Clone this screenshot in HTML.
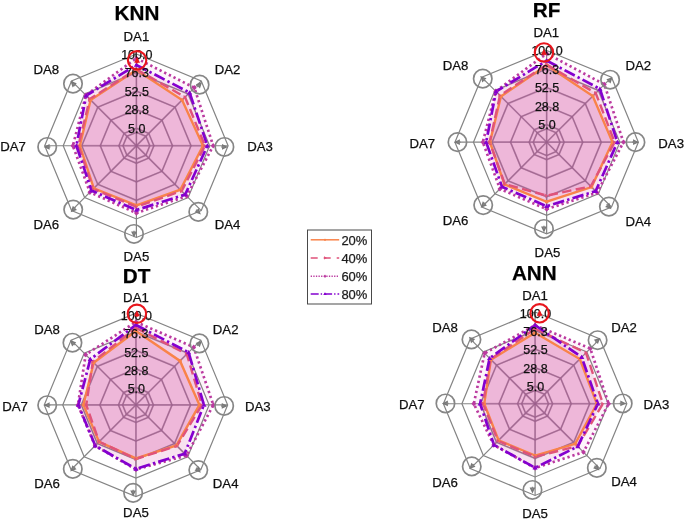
<!DOCTYPE html><html><head><meta charset="utf-8"><title>Radar charts</title>
<style>html,body{margin:0;padding:0;background:#fff}svg{display:block}text{font-family:"Liberation Sans",sans-serif;fill:#111;stroke:#111;stroke-width:0.25px}.t{font-size:20.7px;font-weight:bold;text-anchor:middle;fill:#000}.l{font-size:13.2px}.k{font-size:12.5px;text-anchor:middle}.g{fill:none;stroke:#848484;stroke-width:1.2}</style></head><body>
<svg width="685" height="521" viewBox="0 0 685 521">
<defs><filter id="b" x="-5%" y="-5%" width="110%" height="110%"><feGaussianBlur stdDeviation="0.7"/></filter></defs>
<rect width="685" height="521" fill="#fff"/>
<g filter="url(#b)">
<g>
<polygon class="g" points="136.40,128.25 148.77,133.38 153.90,145.75 148.77,158.12 136.40,163.25 124.03,158.12 118.90,145.75 124.03,133.38"/>
<polygon class="g" points="136.40,109.65 161.93,120.22 172.50,145.75 161.93,171.28 136.40,181.85 110.87,171.28 100.30,145.75 110.87,120.22"/>
<polygon class="g" points="136.40,91.15 175.01,107.14 191.00,145.75 175.01,184.36 136.40,200.35 97.79,184.36 81.80,145.75 97.79,107.14"/>
<polygon class="g" points="136.40,72.55 188.16,93.99 209.60,145.75 188.16,197.51 136.40,218.95 84.64,197.51 63.20,145.75 84.64,93.99"/>
<polygon class="g" points="136.40,54.05 201.24,80.91 228.10,145.75 201.24,210.59 136.40,237.45 71.56,210.59 44.70,145.75 71.56,80.91"/>
<polygon class="g" points="136.40,132.35 145.88,136.27 149.80,145.75 145.88,155.23 136.40,159.15 126.92,155.23 123.00,145.75 126.92,136.27"/>
<line class="g" x1="136.40" y1="145.75" x2="136.40" y2="54.05"/>
<line class="g" x1="136.40" y1="145.75" x2="201.24" y2="80.91"/>
<line class="g" x1="136.40" y1="145.75" x2="228.10" y2="145.75"/>
<line class="g" x1="136.40" y1="145.75" x2="201.24" y2="210.59"/>
<line class="g" x1="136.40" y1="145.75" x2="136.40" y2="237.45"/>
<line class="g" x1="136.40" y1="145.75" x2="71.56" y2="210.59"/>
<line class="g" x1="136.40" y1="145.75" x2="44.70" y2="145.75"/>
<line class="g" x1="136.40" y1="145.75" x2="71.56" y2="80.91"/>
<polygon points="136.40,69.95 182.08,100.07 203.00,145.75 180.38,189.73 136.40,205.35 93.83,188.32 79.90,145.75 90.58,99.93" fill="#d85caa" fill-opacity="0.19"/>
<polygon points="136.40,69.25 185.05,97.10 205.00,145.75 181.65,191.00 136.40,206.75 93.27,188.88 78.40,145.75 89.73,99.08" fill="#d85caa" fill-opacity="0.16"/>
<polygon points="136.40,58.25 194.38,87.77 213.20,145.75 186.75,196.10 136.40,213.05 89.87,192.28 72.90,145.75 85.84,95.19" fill="#d85caa" fill-opacity="0.06"/>
<polygon points="136.40,64.95 189.57,92.58 207.40,145.75 185.19,194.54 136.40,210.05 91.57,190.58 76.40,145.75 86.20,95.55" fill="#d85caa" fill-opacity="0.12"/>
<clipPath id="clKNN"><polygon points="136.40,64.95 189.57,92.58 207.40,145.75 185.19,194.54 136.40,210.05 91.57,190.58 76.40,145.75 86.20,95.55"/></clipPath>
<g clip-path="url(#clKNN)" fill="none" stroke="#9a5c8c" stroke-opacity="0.42" stroke-width="1.9">
<polygon points="136.40,128.25 148.77,133.38 153.90,145.75 148.77,158.12 136.40,163.25 124.03,158.12 118.90,145.75 124.03,133.38"/>
<polygon points="136.40,109.65 161.93,120.22 172.50,145.75 161.93,171.28 136.40,181.85 110.87,171.28 100.30,145.75 110.87,120.22"/>
<polygon points="136.40,91.15 175.01,107.14 191.00,145.75 175.01,184.36 136.40,200.35 97.79,184.36 81.80,145.75 97.79,107.14"/>
<polygon points="136.40,72.55 188.16,93.99 209.60,145.75 188.16,197.51 136.40,218.95 84.64,197.51 63.20,145.75 84.64,93.99"/>
<polygon points="136.40,132.35 145.88,136.27 149.80,145.75 145.88,155.23 136.40,159.15 126.92,155.23 123.00,145.75 126.92,136.27"/>
<line x1="136.40" y1="145.75" x2="136.40" y2="54.05"/>
<line x1="136.40" y1="145.75" x2="201.24" y2="80.91"/>
<line x1="136.40" y1="145.75" x2="228.10" y2="145.75"/>
<line x1="136.40" y1="145.75" x2="201.24" y2="210.59"/>
<line x1="136.40" y1="145.75" x2="136.40" y2="237.45"/>
<line x1="136.40" y1="145.75" x2="71.56" y2="210.59"/>
<line x1="136.40" y1="145.75" x2="44.70" y2="145.75"/>
<line x1="136.40" y1="145.75" x2="71.56" y2="80.91"/>
</g>
<polygon points="136.40,69.95 182.08,100.07 203.00,145.75 180.38,189.73 136.40,205.35 93.83,188.32 79.90,145.75 90.58,99.93" fill="none" stroke="#f9834a" stroke-width="2.4" stroke-linejoin="miter"/>
<polygon points="136.40,69.25 185.05,97.10 205.00,145.75 181.65,191.00 136.40,206.75 93.27,188.88 78.40,145.75 89.73,99.08" fill="none" stroke="#e0527a" stroke-width="2.4" stroke-linejoin="miter" stroke-dasharray="9.4 4.4"/>
<polygon points="136.40,58.25 194.38,87.77 213.20,145.75 186.75,196.10 136.40,213.05 89.87,192.28 72.90,145.75 85.84,95.19" fill="none" stroke="#bb3aa0" stroke-width="2.7" stroke-linejoin="miter" stroke-dasharray="2.3 2.9"/>
<polygon points="136.40,64.95 189.57,92.58 207.40,145.75 185.19,194.54 136.40,210.05 91.57,190.58 76.40,145.75 86.20,95.55" fill="none" stroke="#8400cf" stroke-width="2.7" stroke-linejoin="miter" stroke-dasharray="11.5 3.2 2.4 3.2"/>
<circle cx="136.40" cy="69.95" r="1.8" fill="#f9834a"/>
<circle cx="182.08" cy="100.07" r="1.8" fill="#f9834a"/>
<circle cx="203.00" cy="145.75" r="1.8" fill="#f9834a"/>
<circle cx="180.38" cy="189.73" r="1.8" fill="#f9834a"/>
<circle cx="136.40" cy="205.35" r="1.8" fill="#f9834a"/>
<circle cx="93.83" cy="188.32" r="1.8" fill="#f9834a"/>
<circle cx="79.90" cy="145.75" r="1.8" fill="#f9834a"/>
<circle cx="90.58" cy="99.93" r="1.8" fill="#f9834a"/>
<path d="M137.90 69.25 l-3 -2 v4z" fill="#e0527a"/>
<path d="M186.55 97.10 l-3 -2 v4z" fill="#e0527a"/>
<path d="M206.50 145.75 l-3 -2 v4z" fill="#e0527a"/>
<path d="M183.15 191.00 l-3 -2 v4z" fill="#e0527a"/>
<path d="M137.90 206.75 l-3 -2 v4z" fill="#e0527a"/>
<path d="M94.77 188.88 l-3 -2 v4z" fill="#e0527a"/>
<path d="M79.90 145.75 l-3 -2 v4z" fill="#e0527a"/>
<path d="M91.23 99.08 l-3 -2 v4z" fill="#e0527a"/>
<path d="M136.40 55.55 l2.4 2.7 l-2.4 2.7 l-2.4 -2.7z" fill="#bb3aa0"/>
<path d="M194.38 85.07 l2.4 2.7 l-2.4 2.7 l-2.4 -2.7z" fill="#bb3aa0"/>
<path d="M213.20 143.05 l2.4 2.7 l-2.4 2.7 l-2.4 -2.7z" fill="#bb3aa0"/>
<path d="M186.75 193.40 l2.4 2.7 l-2.4 2.7 l-2.4 -2.7z" fill="#bb3aa0"/>
<path d="M136.40 210.35 l2.4 2.7 l-2.4 2.7 l-2.4 -2.7z" fill="#bb3aa0"/>
<path d="M89.87 189.58 l2.4 2.7 l-2.4 2.7 l-2.4 -2.7z" fill="#bb3aa0"/>
<path d="M72.90 143.05 l2.4 2.7 l-2.4 2.7 l-2.4 -2.7z" fill="#bb3aa0"/>
<path d="M85.84 92.49 l2.4 2.7 l-2.4 2.7 l-2.4 -2.7z" fill="#bb3aa0"/>
<path d="M136.40 62.55 l2.6 4.2 h-5.2z" fill="#8400cf"/>
<path d="M189.57 90.18 l2.6 4.2 h-5.2z" fill="#8400cf"/>
<path d="M207.40 143.35 l2.6 4.2 h-5.2z" fill="#8400cf"/>
<path d="M185.19 192.14 l2.6 4.2 h-5.2z" fill="#8400cf"/>
<path d="M136.40 207.65 l2.6 4.2 h-5.2z" fill="#8400cf"/>
<path d="M91.57 188.18 l2.6 4.2 h-5.2z" fill="#8400cf"/>
<path d="M76.40 143.35 l2.6 4.2 h-5.2z" fill="#8400cf"/>
<path d="M86.20 93.15 l2.6 4.2 h-5.2z" fill="#8400cf"/>
<text class="k" x="136.80" y="59.15">100.0</text>
<text class="k" x="136.80" y="77.15">76.3</text>
<text class="k" x="136.80" y="96.25">52.5</text>
<text class="k" x="136.80" y="114.35">28.8</text>
<text class="k" x="136.80" y="133.25">5.0</text>
<text class="l" text-anchor="middle" x="136.40" y="40.85">DA1</text>
<text class="l" text-anchor="start" x="214.80" y="73.85">DA2</text>
<text class="l" text-anchor="start" x="247.20" y="151.45">DA3</text>
<text class="l" text-anchor="start" x="214.80" y="229.15">DA4</text>
<text class="l" text-anchor="middle" x="136.40" y="260.55">DA5</text>
<text class="l" text-anchor="end" x="59.10" y="229.05">DA6</text>
<text class="l" text-anchor="end" x="25.90" y="151.35">DA7</text>
<text class="l" text-anchor="end" x="59.10" y="73.75">DA8</text>
<circle cx="137.10" cy="60.35" r="9.2" fill="none" stroke="#e8141c" stroke-width="2.1"/>
<path d="M137.10 56.75 L140.00 62.75 L134.20 62.75 Z" fill="#e8141c"/>
<line x1="137.10" y1="60.35" x2="137.10" y2="63.55" stroke="#e8141c" stroke-width="1.4"/>
<circle cx="199.60" cy="84.65" r="9.2" fill="none" stroke="#868686" stroke-width="1.7"/>
<path d="M202.15 82.10 L199.95 88.40 L195.85 84.30 Z" fill="#787878"/>
<line x1="199.60" y1="84.65" x2="197.34" y2="86.91" stroke="#868686" stroke-width="1.4"/>
<circle cx="224.40" cy="146.95" r="9.2" fill="none" stroke="#868686" stroke-width="1.7"/>
<path d="M228.00 146.95 L222.00 149.85 L222.00 144.05 Z" fill="#787878"/>
<line x1="224.40" y1="146.95" x2="221.20" y2="146.95" stroke="#868686" stroke-width="1.4"/>
<circle cx="198.30" cy="211.90" r="9.2" fill="none" stroke="#868686" stroke-width="1.7"/>
<path d="M200.85 214.45 L194.55 212.25 L198.65 208.15 Z" fill="#787878"/>
<line x1="198.30" y1="211.90" x2="196.04" y2="209.64" stroke="#868686" stroke-width="1.4"/>
<circle cx="134.00" cy="233.95" r="9.2" fill="none" stroke="#868686" stroke-width="1.7"/>
<path d="M134.00 237.55 L131.10 231.55 L136.90 231.55 Z" fill="#787878"/>
<line x1="134.00" y1="233.95" x2="134.00" y2="230.75" stroke="#868686" stroke-width="1.4"/>
<circle cx="73.20" cy="209.60" r="9.2" fill="none" stroke="#868686" stroke-width="1.7"/>
<path d="M70.65 212.15 L72.85 205.85 L76.95 209.95 Z" fill="#787878"/>
<line x1="73.20" y1="209.60" x2="75.46" y2="207.34" stroke="#868686" stroke-width="1.4"/>
<circle cx="47.20" cy="146.95" r="9.2" fill="none" stroke="#868686" stroke-width="1.7"/>
<path d="M43.60 146.95 L49.60 144.05 L49.60 149.85 Z" fill="#787878"/>
<line x1="47.20" y1="146.95" x2="50.40" y2="146.95" stroke="#868686" stroke-width="1.4"/>
<circle cx="73.00" cy="83.65" r="9.2" fill="none" stroke="#868686" stroke-width="1.7"/>
<path d="M70.45 81.10 L76.75 83.30 L72.65 87.40 Z" fill="#787878"/>
<line x1="73.00" y1="83.65" x2="75.26" y2="85.91" stroke="#868686" stroke-width="1.4"/>
<text class="t" x="137.00" y="20.25">KNN</text>
</g>
<g>
<polygon class="g" points="546.65,124.65 559.02,129.78 564.15,142.15 559.02,154.52 546.65,159.65 534.28,154.52 529.15,142.15 534.28,129.78"/>
<polygon class="g" points="546.65,106.05 572.18,116.62 582.75,142.15 572.18,167.68 546.65,178.25 521.12,167.68 510.55,142.15 521.12,116.62"/>
<polygon class="g" points="546.65,87.55 585.26,103.54 601.25,142.15 585.26,180.76 546.65,196.75 508.04,180.76 492.05,142.15 508.04,103.54"/>
<polygon class="g" points="546.65,68.95 598.41,90.39 619.85,142.15 598.41,193.91 546.65,215.35 494.89,193.91 473.45,142.15 494.89,90.39"/>
<polygon class="g" points="546.65,50.45 611.49,77.31 638.35,142.15 611.49,206.99 546.65,233.85 481.81,206.99 454.95,142.15 481.81,77.31"/>
<polygon class="g" points="546.65,128.75 556.13,132.67 560.05,142.15 556.13,151.63 546.65,155.55 537.17,151.63 533.25,142.15 537.17,132.67"/>
<line class="g" x1="546.65" y1="142.15" x2="546.65" y2="50.45"/>
<line class="g" x1="546.65" y1="142.15" x2="611.49" y2="77.31"/>
<line class="g" x1="546.65" y1="142.15" x2="638.35" y2="142.15"/>
<line class="g" x1="546.65" y1="142.15" x2="611.49" y2="206.99"/>
<line class="g" x1="546.65" y1="142.15" x2="546.65" y2="233.85"/>
<line class="g" x1="546.65" y1="142.15" x2="481.81" y2="206.99"/>
<line class="g" x1="546.65" y1="142.15" x2="454.95" y2="142.15"/>
<line class="g" x1="546.65" y1="142.15" x2="481.81" y2="77.31"/>
<polygon points="546.65,65.15 592.75,96.05 612.45,142.15 591.55,187.05 546.65,201.75 504.44,184.36 489.95,142.15 500.90,96.40" fill="#d85caa" fill-opacity="0.19"/>
<polygon points="546.65,64.65 595.72,93.08 614.65,142.15 590.84,186.34 546.65,195.65 504.79,184.01 489.65,142.15 499.98,95.48" fill="#d85caa" fill-opacity="0.16"/>
<polygon points="546.65,53.55 604.35,84.45 623.45,142.15 597.14,192.64 546.65,209.15 499.91,188.89 482.85,142.15 495.74,91.24" fill="#d85caa" fill-opacity="0.06"/>
<polygon points="546.65,60.65 599.90,88.90 617.45,142.15 595.65,191.15 546.65,206.25 502.03,186.77 486.15,142.15 496.02,91.52" fill="#d85caa" fill-opacity="0.12"/>
<clipPath id="clRF"><polygon points="546.65,60.65 599.90,88.90 617.45,142.15 595.65,191.15 546.65,206.25 502.03,186.77 486.15,142.15 496.02,91.52"/></clipPath>
<g clip-path="url(#clRF)" fill="none" stroke="#9a5c8c" stroke-opacity="0.42" stroke-width="1.9">
<polygon points="546.65,124.65 559.02,129.78 564.15,142.15 559.02,154.52 546.65,159.65 534.28,154.52 529.15,142.15 534.28,129.78"/>
<polygon points="546.65,106.05 572.18,116.62 582.75,142.15 572.18,167.68 546.65,178.25 521.12,167.68 510.55,142.15 521.12,116.62"/>
<polygon points="546.65,87.55 585.26,103.54 601.25,142.15 585.26,180.76 546.65,196.75 508.04,180.76 492.05,142.15 508.04,103.54"/>
<polygon points="546.65,68.95 598.41,90.39 619.85,142.15 598.41,193.91 546.65,215.35 494.89,193.91 473.45,142.15 494.89,90.39"/>
<polygon points="546.65,128.75 556.13,132.67 560.05,142.15 556.13,151.63 546.65,155.55 537.17,151.63 533.25,142.15 537.17,132.67"/>
<line x1="546.65" y1="142.15" x2="546.65" y2="50.45"/>
<line x1="546.65" y1="142.15" x2="611.49" y2="77.31"/>
<line x1="546.65" y1="142.15" x2="638.35" y2="142.15"/>
<line x1="546.65" y1="142.15" x2="611.49" y2="206.99"/>
<line x1="546.65" y1="142.15" x2="546.65" y2="233.85"/>
<line x1="546.65" y1="142.15" x2="481.81" y2="206.99"/>
<line x1="546.65" y1="142.15" x2="454.95" y2="142.15"/>
<line x1="546.65" y1="142.15" x2="481.81" y2="77.31"/>
</g>
<polygon points="546.65,65.15 592.75,96.05 612.45,142.15 591.55,187.05 546.65,201.75 504.44,184.36 489.95,142.15 500.90,96.40" fill="none" stroke="#f9834a" stroke-width="2.4" stroke-linejoin="miter"/>
<polygon points="546.65,64.65 595.72,93.08 614.65,142.15 590.84,186.34 546.65,195.65 504.79,184.01 489.65,142.15 499.98,95.48" fill="none" stroke="#e0527a" stroke-width="2.4" stroke-linejoin="miter" stroke-dasharray="9.4 4.4"/>
<polygon points="546.65,53.55 604.35,84.45 623.45,142.15 597.14,192.64 546.65,209.15 499.91,188.89 482.85,142.15 495.74,91.24" fill="none" stroke="#bb3aa0" stroke-width="2.7" stroke-linejoin="miter" stroke-dasharray="2.3 2.9"/>
<polygon points="546.65,60.65 599.90,88.90 617.45,142.15 595.65,191.15 546.65,206.25 502.03,186.77 486.15,142.15 496.02,91.52" fill="none" stroke="#8400cf" stroke-width="2.7" stroke-linejoin="miter" stroke-dasharray="11.5 3.2 2.4 3.2"/>
<circle cx="546.65" cy="65.15" r="1.8" fill="#f9834a"/>
<circle cx="592.75" cy="96.05" r="1.8" fill="#f9834a"/>
<circle cx="612.45" cy="142.15" r="1.8" fill="#f9834a"/>
<circle cx="591.55" cy="187.05" r="1.8" fill="#f9834a"/>
<circle cx="546.65" cy="201.75" r="1.8" fill="#f9834a"/>
<circle cx="504.44" cy="184.36" r="1.8" fill="#f9834a"/>
<circle cx="489.95" cy="142.15" r="1.8" fill="#f9834a"/>
<circle cx="500.90" cy="96.40" r="1.8" fill="#f9834a"/>
<path d="M548.15 64.65 l-3 -2 v4z" fill="#e0527a"/>
<path d="M597.22 93.08 l-3 -2 v4z" fill="#e0527a"/>
<path d="M616.15 142.15 l-3 -2 v4z" fill="#e0527a"/>
<path d="M592.34 186.34 l-3 -2 v4z" fill="#e0527a"/>
<path d="M548.15 195.65 l-3 -2 v4z" fill="#e0527a"/>
<path d="M506.29 184.01 l-3 -2 v4z" fill="#e0527a"/>
<path d="M491.15 142.15 l-3 -2 v4z" fill="#e0527a"/>
<path d="M501.48 95.48 l-3 -2 v4z" fill="#e0527a"/>
<path d="M546.65 50.85 l2.4 2.7 l-2.4 2.7 l-2.4 -2.7z" fill="#bb3aa0"/>
<path d="M604.35 81.75 l2.4 2.7 l-2.4 2.7 l-2.4 -2.7z" fill="#bb3aa0"/>
<path d="M623.45 139.45 l2.4 2.7 l-2.4 2.7 l-2.4 -2.7z" fill="#bb3aa0"/>
<path d="M597.14 189.94 l2.4 2.7 l-2.4 2.7 l-2.4 -2.7z" fill="#bb3aa0"/>
<path d="M546.65 206.45 l2.4 2.7 l-2.4 2.7 l-2.4 -2.7z" fill="#bb3aa0"/>
<path d="M499.91 186.19 l2.4 2.7 l-2.4 2.7 l-2.4 -2.7z" fill="#bb3aa0"/>
<path d="M482.85 139.45 l2.4 2.7 l-2.4 2.7 l-2.4 -2.7z" fill="#bb3aa0"/>
<path d="M495.74 88.54 l2.4 2.7 l-2.4 2.7 l-2.4 -2.7z" fill="#bb3aa0"/>
<path d="M546.65 58.25 l2.6 4.2 h-5.2z" fill="#8400cf"/>
<path d="M599.90 86.50 l2.6 4.2 h-5.2z" fill="#8400cf"/>
<path d="M617.45 139.75 l2.6 4.2 h-5.2z" fill="#8400cf"/>
<path d="M595.65 188.75 l2.6 4.2 h-5.2z" fill="#8400cf"/>
<path d="M546.65 203.85 l2.6 4.2 h-5.2z" fill="#8400cf"/>
<path d="M502.03 184.37 l2.6 4.2 h-5.2z" fill="#8400cf"/>
<path d="M486.15 139.75 l2.6 4.2 h-5.2z" fill="#8400cf"/>
<path d="M496.02 89.12 l2.6 4.2 h-5.2z" fill="#8400cf"/>
<text class="k" x="547.05" y="55.05">100.0</text>
<text class="k" x="547.05" y="73.55">76.3</text>
<text class="k" x="547.05" y="92.15">52.5</text>
<text class="k" x="547.05" y="110.65">28.8</text>
<text class="k" x="547.05" y="129.25">5.0</text>
<text class="l" text-anchor="middle" x="546.35" y="37.25">DA1</text>
<text class="l" text-anchor="start" x="625.55" y="69.75">DA2</text>
<text class="l" text-anchor="start" x="658.35" y="147.85">DA3</text>
<text class="l" text-anchor="start" x="625.55" y="225.55">DA4</text>
<text class="l" text-anchor="middle" x="547.45" y="256.95">DA5</text>
<text class="l" text-anchor="end" x="468.35" y="225.45">DA6</text>
<text class="l" text-anchor="end" x="435.15" y="147.75">DA7</text>
<text class="l" text-anchor="end" x="468.35" y="70.15">DA8</text>
<circle cx="543.95" cy="52.40" r="9.2" fill="none" stroke="#e8141c" stroke-width="2.1"/>
<path d="M543.95 48.80 L546.85 54.80 L541.05 54.80 Z" fill="#e8141c"/>
<line x1="543.95" y1="52.40" x2="543.95" y2="55.60" stroke="#e8141c" stroke-width="1.4"/>
<circle cx="610.10" cy="79.70" r="9.2" fill="none" stroke="#868686" stroke-width="1.7"/>
<path d="M612.65 77.15 L610.45 83.45 L606.35 79.35 Z" fill="#787878"/>
<line x1="610.10" y1="79.70" x2="607.84" y2="81.96" stroke="#868686" stroke-width="1.4"/>
<circle cx="635.45" cy="142.15" r="9.2" fill="none" stroke="#868686" stroke-width="1.7"/>
<path d="M639.05 142.15 L633.05 145.05 L633.05 139.25 Z" fill="#787878"/>
<line x1="635.45" y1="142.15" x2="632.25" y2="142.15" stroke="#868686" stroke-width="1.4"/>
<circle cx="608.90" cy="206.60" r="9.2" fill="none" stroke="#868686" stroke-width="1.7"/>
<path d="M611.45 209.15 L605.15 206.95 L609.25 202.85 Z" fill="#787878"/>
<line x1="608.90" y1="206.60" x2="606.64" y2="204.34" stroke="#868686" stroke-width="1.4"/>
<circle cx="543.95" cy="228.95" r="9.2" fill="none" stroke="#868686" stroke-width="1.7"/>
<path d="M543.95 232.55 L541.05 226.55 L546.85 226.55 Z" fill="#787878"/>
<line x1="543.95" y1="228.95" x2="543.95" y2="225.75" stroke="#868686" stroke-width="1.4"/>
<circle cx="483.20" cy="205.10" r="9.2" fill="none" stroke="#868686" stroke-width="1.7"/>
<path d="M480.65 207.65 L482.85 201.35 L486.95 205.45 Z" fill="#787878"/>
<line x1="483.20" y1="205.10" x2="485.46" y2="202.84" stroke="#868686" stroke-width="1.4"/>
<circle cx="457.45" cy="142.15" r="9.2" fill="none" stroke="#868686" stroke-width="1.7"/>
<path d="M453.85 142.15 L459.85 139.25 L459.85 145.05 Z" fill="#787878"/>
<line x1="457.45" y1="142.15" x2="460.65" y2="142.15" stroke="#868686" stroke-width="1.4"/>
<circle cx="482.75" cy="78.65" r="9.2" fill="none" stroke="#868686" stroke-width="1.7"/>
<path d="M480.20 76.10 L486.50 78.30 L482.40 82.40 Z" fill="#787878"/>
<line x1="482.75" y1="78.65" x2="485.01" y2="80.91" stroke="#868686" stroke-width="1.4"/>
<text class="t" x="546.65" y="16.85">RF</text>
</g>
<g>
<polygon class="g" points="135.95,387.45 148.32,392.58 153.45,404.95 148.32,417.32 135.95,422.45 123.58,417.32 118.45,404.95 123.58,392.58"/>
<polygon class="g" points="135.95,368.85 161.48,379.42 172.05,404.95 161.48,430.48 135.95,441.05 110.42,430.48 99.85,404.95 110.42,379.42"/>
<polygon class="g" points="135.95,350.35 174.56,366.34 190.55,404.95 174.56,443.56 135.95,459.55 97.34,443.56 81.35,404.95 97.34,366.34"/>
<polygon class="g" points="135.95,331.75 187.71,353.19 209.15,404.95 187.71,456.71 135.95,478.15 84.19,456.71 62.75,404.95 84.19,353.19"/>
<polygon class="g" points="135.95,313.25 200.79,340.11 227.65,404.95 200.79,469.79 135.95,496.65 71.11,469.79 44.25,404.95 71.11,340.11"/>
<polygon class="g" points="135.95,391.55 145.43,395.47 149.35,404.95 145.43,414.43 135.95,418.35 126.47,414.43 122.55,404.95 126.47,395.47"/>
<line class="g" x1="135.95" y1="404.95" x2="135.95" y2="313.25"/>
<line class="g" x1="135.95" y1="404.95" x2="200.79" y2="340.11"/>
<line class="g" x1="135.95" y1="404.95" x2="227.65" y2="404.95"/>
<line class="g" x1="135.95" y1="404.95" x2="200.79" y2="469.79"/>
<line class="g" x1="135.95" y1="404.95" x2="135.95" y2="496.65"/>
<line class="g" x1="135.95" y1="404.95" x2="71.11" y2="469.79"/>
<line class="g" x1="135.95" y1="404.95" x2="44.25" y2="404.95"/>
<line class="g" x1="135.95" y1="404.95" x2="71.11" y2="340.11"/>
<polygon points="135.95,330.95 180.00,360.90 199.45,404.95 176.40,445.40 135.95,458.45 99.04,441.86 83.45,404.95 93.67,362.67" fill="#d85caa" fill-opacity="0.19"/>
<polygon points="135.95,327.95 186.79,354.11 201.95,404.95 176.96,445.96 135.95,458.95 99.18,441.72 86.25,404.95 92.82,361.82" fill="#d85caa" fill-opacity="0.16"/>
<polygon points="135.95,321.95 193.72,347.18 213.35,404.95 186.51,455.51 135.95,469.45 95.08,445.82 77.95,404.95 85.67,354.67" fill="#d85caa" fill-opacity="0.06"/>
<polygon points="135.95,324.95 188.56,352.34 203.95,404.95 184.67,453.67 135.95,468.85 95.22,445.68 78.35,404.95 90.27,359.27" fill="#d85caa" fill-opacity="0.12"/>
<clipPath id="clDT"><polygon points="135.95,324.95 188.56,352.34 203.95,404.95 184.67,453.67 135.95,468.85 95.22,445.68 78.35,404.95 90.27,359.27"/></clipPath>
<g clip-path="url(#clDT)" fill="none" stroke="#9a5c8c" stroke-opacity="0.42" stroke-width="1.9">
<polygon points="135.95,387.45 148.32,392.58 153.45,404.95 148.32,417.32 135.95,422.45 123.58,417.32 118.45,404.95 123.58,392.58"/>
<polygon points="135.95,368.85 161.48,379.42 172.05,404.95 161.48,430.48 135.95,441.05 110.42,430.48 99.85,404.95 110.42,379.42"/>
<polygon points="135.95,350.35 174.56,366.34 190.55,404.95 174.56,443.56 135.95,459.55 97.34,443.56 81.35,404.95 97.34,366.34"/>
<polygon points="135.95,331.75 187.71,353.19 209.15,404.95 187.71,456.71 135.95,478.15 84.19,456.71 62.75,404.95 84.19,353.19"/>
<polygon points="135.95,391.55 145.43,395.47 149.35,404.95 145.43,414.43 135.95,418.35 126.47,414.43 122.55,404.95 126.47,395.47"/>
<line x1="135.95" y1="404.95" x2="135.95" y2="313.25"/>
<line x1="135.95" y1="404.95" x2="200.79" y2="340.11"/>
<line x1="135.95" y1="404.95" x2="227.65" y2="404.95"/>
<line x1="135.95" y1="404.95" x2="200.79" y2="469.79"/>
<line x1="135.95" y1="404.95" x2="135.95" y2="496.65"/>
<line x1="135.95" y1="404.95" x2="71.11" y2="469.79"/>
<line x1="135.95" y1="404.95" x2="44.25" y2="404.95"/>
<line x1="135.95" y1="404.95" x2="71.11" y2="340.11"/>
</g>
<polygon points="135.95,330.95 180.00,360.90 199.45,404.95 176.40,445.40 135.95,458.45 99.04,441.86 83.45,404.95 93.67,362.67" fill="none" stroke="#f9834a" stroke-width="2.4" stroke-linejoin="miter"/>
<polygon points="135.95,327.95 186.79,354.11 201.95,404.95 176.96,445.96 135.95,458.95 99.18,441.72 86.25,404.95 92.82,361.82" fill="none" stroke="#e0527a" stroke-width="2.4" stroke-linejoin="miter" stroke-dasharray="9.4 4.4"/>
<polygon points="135.95,321.95 193.72,347.18 213.35,404.95 186.51,455.51 135.95,469.45 95.08,445.82 77.95,404.95 85.67,354.67" fill="none" stroke="#bb3aa0" stroke-width="2.7" stroke-linejoin="miter" stroke-dasharray="2.3 2.9"/>
<polygon points="135.95,324.95 188.56,352.34 203.95,404.95 184.67,453.67 135.95,468.85 95.22,445.68 78.35,404.95 90.27,359.27" fill="none" stroke="#8400cf" stroke-width="2.7" stroke-linejoin="miter" stroke-dasharray="11.5 3.2 2.4 3.2"/>
<circle cx="135.95" cy="330.95" r="1.8" fill="#f9834a"/>
<circle cx="180.00" cy="360.90" r="1.8" fill="#f9834a"/>
<circle cx="199.45" cy="404.95" r="1.8" fill="#f9834a"/>
<circle cx="176.40" cy="445.40" r="1.8" fill="#f9834a"/>
<circle cx="135.95" cy="458.45" r="1.8" fill="#f9834a"/>
<circle cx="99.04" cy="441.86" r="1.8" fill="#f9834a"/>
<circle cx="83.45" cy="404.95" r="1.8" fill="#f9834a"/>
<circle cx="93.67" cy="362.67" r="1.8" fill="#f9834a"/>
<path d="M137.45 327.95 l-3 -2 v4z" fill="#e0527a"/>
<path d="M188.29 354.11 l-3 -2 v4z" fill="#e0527a"/>
<path d="M203.45 404.95 l-3 -2 v4z" fill="#e0527a"/>
<path d="M178.46 445.96 l-3 -2 v4z" fill="#e0527a"/>
<path d="M137.45 458.95 l-3 -2 v4z" fill="#e0527a"/>
<path d="M100.68 441.72 l-3 -2 v4z" fill="#e0527a"/>
<path d="M87.75 404.95 l-3 -2 v4z" fill="#e0527a"/>
<path d="M94.32 361.82 l-3 -2 v4z" fill="#e0527a"/>
<path d="M135.95 319.25 l2.4 2.7 l-2.4 2.7 l-2.4 -2.7z" fill="#bb3aa0"/>
<path d="M193.72 344.48 l2.4 2.7 l-2.4 2.7 l-2.4 -2.7z" fill="#bb3aa0"/>
<path d="M213.35 402.25 l2.4 2.7 l-2.4 2.7 l-2.4 -2.7z" fill="#bb3aa0"/>
<path d="M186.51 452.81 l2.4 2.7 l-2.4 2.7 l-2.4 -2.7z" fill="#bb3aa0"/>
<path d="M135.95 466.75 l2.4 2.7 l-2.4 2.7 l-2.4 -2.7z" fill="#bb3aa0"/>
<path d="M95.08 443.12 l2.4 2.7 l-2.4 2.7 l-2.4 -2.7z" fill="#bb3aa0"/>
<path d="M77.95 402.25 l2.4 2.7 l-2.4 2.7 l-2.4 -2.7z" fill="#bb3aa0"/>
<path d="M85.67 351.97 l2.4 2.7 l-2.4 2.7 l-2.4 -2.7z" fill="#bb3aa0"/>
<path d="M135.95 322.55 l2.6 4.2 h-5.2z" fill="#8400cf"/>
<path d="M188.56 349.94 l2.6 4.2 h-5.2z" fill="#8400cf"/>
<path d="M203.95 402.55 l2.6 4.2 h-5.2z" fill="#8400cf"/>
<path d="M184.67 451.27 l2.6 4.2 h-5.2z" fill="#8400cf"/>
<path d="M135.95 466.45 l2.6 4.2 h-5.2z" fill="#8400cf"/>
<path d="M95.22 443.28 l2.6 4.2 h-5.2z" fill="#8400cf"/>
<path d="M78.35 402.55 l2.6 4.2 h-5.2z" fill="#8400cf"/>
<path d="M90.27 356.87 l2.6 4.2 h-5.2z" fill="#8400cf"/>
<text class="k" x="136.35" y="320.35">100.0</text>
<text class="k" x="136.35" y="337.65">76.3</text>
<text class="k" x="136.35" y="356.65">52.5</text>
<text class="k" x="136.35" y="374.75">28.8</text>
<text class="k" x="136.35" y="393.20">5.0</text>
<text class="l" text-anchor="middle" x="135.95" y="301.75">DA1</text>
<text class="l" text-anchor="start" x="212.85" y="334.05">DA2</text>
<text class="l" text-anchor="start" x="244.95" y="410.65">DA3</text>
<text class="l" text-anchor="start" x="212.85" y="488.35">DA4</text>
<text class="l" text-anchor="middle" x="135.95" y="517.25">DA5</text>
<text class="l" text-anchor="end" x="59.95" y="488.25">DA6</text>
<text class="l" text-anchor="end" x="27.95" y="410.55">DA7</text>
<text class="l" text-anchor="end" x="59.95" y="333.95">DA8</text>
<circle cx="136.90" cy="313.80" r="9.2" fill="none" stroke="#e8141c" stroke-width="2.1"/>
<path d="M136.90 310.20 L139.80 316.20 L134.00 316.20 Z" fill="#e8141c"/>
<line x1="136.90" y1="313.80" x2="136.90" y2="317.00" stroke="#e8141c" stroke-width="1.4"/>
<circle cx="199.40" cy="343.40" r="9.2" fill="none" stroke="#868686" stroke-width="1.7"/>
<path d="M201.95 340.85 L199.75 347.15 L195.65 343.05 Z" fill="#787878"/>
<line x1="199.40" y1="343.40" x2="197.14" y2="345.66" stroke="#868686" stroke-width="1.4"/>
<circle cx="224.15" cy="405.95" r="9.2" fill="none" stroke="#868686" stroke-width="1.7"/>
<path d="M227.75 405.95 L221.75 408.85 L221.75 403.05 Z" fill="#787878"/>
<line x1="224.15" y1="405.95" x2="220.95" y2="405.95" stroke="#868686" stroke-width="1.4"/>
<circle cx="198.30" cy="470.10" r="9.2" fill="none" stroke="#868686" stroke-width="1.7"/>
<path d="M200.85 472.65 L194.55 470.45 L198.65 466.35 Z" fill="#787878"/>
<line x1="198.30" y1="470.10" x2="196.04" y2="467.84" stroke="#868686" stroke-width="1.4"/>
<circle cx="133.15" cy="492.90" r="9.2" fill="none" stroke="#868686" stroke-width="1.7"/>
<path d="M133.15 496.50 L130.25 490.50 L136.05 490.50 Z" fill="#787878"/>
<line x1="133.15" y1="492.90" x2="133.15" y2="489.70" stroke="#868686" stroke-width="1.4"/>
<circle cx="72.80" cy="468.90" r="9.2" fill="none" stroke="#868686" stroke-width="1.7"/>
<path d="M70.25 471.45 L72.45 465.15 L76.55 469.25 Z" fill="#787878"/>
<line x1="72.80" y1="468.90" x2="75.06" y2="466.64" stroke="#868686" stroke-width="1.4"/>
<circle cx="47.20" cy="405.20" r="9.2" fill="none" stroke="#868686" stroke-width="1.7"/>
<path d="M43.60 405.20 L49.60 402.30 L49.60 408.10 Z" fill="#787878"/>
<line x1="47.20" y1="405.20" x2="50.40" y2="405.20" stroke="#868686" stroke-width="1.4"/>
<circle cx="72.45" cy="342.70" r="9.2" fill="none" stroke="#868686" stroke-width="1.7"/>
<path d="M69.90 340.15 L76.20 342.35 L72.10 346.45 Z" fill="#787878"/>
<line x1="72.45" y1="342.70" x2="74.71" y2="344.96" stroke="#868686" stroke-width="1.4"/>
<text class="t" x="136.55" y="282.95">DT</text>
</g>
<g>
<polygon class="g" points="535.10,386.25 547.47,391.38 552.60,403.75 547.47,416.12 535.10,421.25 522.73,416.12 517.60,403.75 522.73,391.38"/>
<polygon class="g" points="535.10,367.65 560.63,378.22 571.20,403.75 560.63,429.28 535.10,439.85 509.57,429.28 499.00,403.75 509.57,378.22"/>
<polygon class="g" points="535.10,349.15 573.71,365.14 589.70,403.75 573.71,442.36 535.10,458.35 496.49,442.36 480.50,403.75 496.49,365.14"/>
<polygon class="g" points="535.10,330.55 586.86,351.99 608.30,403.75 586.86,455.51 535.10,476.95 483.34,455.51 461.90,403.75 483.34,351.99"/>
<polygon class="g" points="535.10,312.05 599.94,338.91 626.80,403.75 599.94,468.59 535.10,495.45 470.26,468.59 443.40,403.75 470.26,338.91"/>
<polygon class="g" points="535.10,390.35 544.58,394.27 548.50,403.75 544.58,413.23 535.10,417.15 525.62,413.23 521.70,403.75 525.62,394.27"/>
<line class="g" x1="535.10" y1="403.75" x2="535.10" y2="312.05"/>
<line class="g" x1="535.10" y1="403.75" x2="599.94" y2="338.91"/>
<line class="g" x1="535.10" y1="403.75" x2="626.80" y2="403.75"/>
<line class="g" x1="535.10" y1="403.75" x2="599.94" y2="468.59"/>
<line class="g" x1="535.10" y1="403.75" x2="535.10" y2="495.45"/>
<line class="g" x1="535.10" y1="403.75" x2="470.26" y2="468.59"/>
<line class="g" x1="535.10" y1="403.75" x2="443.40" y2="403.75"/>
<line class="g" x1="535.10" y1="403.75" x2="470.26" y2="338.91"/>
<polygon points="535.10,332.75 579.79,359.06 596.90,403.75 575.19,443.84 535.10,455.55 498.54,440.31 484.20,403.75 490.98,359.63" fill="#d85caa" fill-opacity="0.19"/>
<polygon points="535.10,328.75 586.01,352.84 602.90,403.75 577.53,446.18 535.10,456.75 497.98,440.87 483.10,403.75 490.55,359.20" fill="#d85caa" fill-opacity="0.16"/>
<polygon points="535.10,325.25 590.33,348.52 608.60,403.75 583.47,452.12 535.10,468.05 493.80,445.05 473.80,403.75 484.61,353.26" fill="#d85caa" fill-opacity="0.06"/>
<polygon points="535.10,325.25 581.70,357.15 597.90,403.75 577.81,446.46 535.10,467.75 493.95,444.90 480.10,403.75 489.63,358.28" fill="#d85caa" fill-opacity="0.12"/>
<clipPath id="clANN"><polygon points="535.10,325.25 581.70,357.15 597.90,403.75 577.81,446.46 535.10,467.75 493.95,444.90 480.10,403.75 489.63,358.28"/></clipPath>
<g clip-path="url(#clANN)" fill="none" stroke="#9a5c8c" stroke-opacity="0.42" stroke-width="1.9">
<polygon points="535.10,386.25 547.47,391.38 552.60,403.75 547.47,416.12 535.10,421.25 522.73,416.12 517.60,403.75 522.73,391.38"/>
<polygon points="535.10,367.65 560.63,378.22 571.20,403.75 560.63,429.28 535.10,439.85 509.57,429.28 499.00,403.75 509.57,378.22"/>
<polygon points="535.10,349.15 573.71,365.14 589.70,403.75 573.71,442.36 535.10,458.35 496.49,442.36 480.50,403.75 496.49,365.14"/>
<polygon points="535.10,330.55 586.86,351.99 608.30,403.75 586.86,455.51 535.10,476.95 483.34,455.51 461.90,403.75 483.34,351.99"/>
<polygon points="535.10,390.35 544.58,394.27 548.50,403.75 544.58,413.23 535.10,417.15 525.62,413.23 521.70,403.75 525.62,394.27"/>
<line x1="535.10" y1="403.75" x2="535.10" y2="312.05"/>
<line x1="535.10" y1="403.75" x2="599.94" y2="338.91"/>
<line x1="535.10" y1="403.75" x2="626.80" y2="403.75"/>
<line x1="535.10" y1="403.75" x2="599.94" y2="468.59"/>
<line x1="535.10" y1="403.75" x2="535.10" y2="495.45"/>
<line x1="535.10" y1="403.75" x2="470.26" y2="468.59"/>
<line x1="535.10" y1="403.75" x2="443.40" y2="403.75"/>
<line x1="535.10" y1="403.75" x2="470.26" y2="338.91"/>
</g>
<polygon points="535.10,332.75 579.79,359.06 596.90,403.75 575.19,443.84 535.10,455.55 498.54,440.31 484.20,403.75 490.98,359.63" fill="none" stroke="#f9834a" stroke-width="2.4" stroke-linejoin="miter"/>
<polygon points="535.10,328.75 586.01,352.84 602.90,403.75 577.53,446.18 535.10,456.75 497.98,440.87 483.10,403.75 490.55,359.20" fill="none" stroke="#e0527a" stroke-width="2.4" stroke-linejoin="miter" stroke-dasharray="9.4 4.4"/>
<polygon points="535.10,325.25 590.33,348.52 608.60,403.75 583.47,452.12 535.10,468.05 493.80,445.05 473.80,403.75 484.61,353.26" fill="none" stroke="#bb3aa0" stroke-width="2.7" stroke-linejoin="miter" stroke-dasharray="2.3 2.9"/>
<polygon points="535.10,325.25 581.70,357.15 597.90,403.75 577.81,446.46 535.10,467.75 493.95,444.90 480.10,403.75 489.63,358.28" fill="none" stroke="#8400cf" stroke-width="2.7" stroke-linejoin="miter" stroke-dasharray="11.5 3.2 2.4 3.2"/>
<circle cx="535.10" cy="332.75" r="1.8" fill="#f9834a"/>
<circle cx="579.79" cy="359.06" r="1.8" fill="#f9834a"/>
<circle cx="596.90" cy="403.75" r="1.8" fill="#f9834a"/>
<circle cx="575.19" cy="443.84" r="1.8" fill="#f9834a"/>
<circle cx="535.10" cy="455.55" r="1.8" fill="#f9834a"/>
<circle cx="498.54" cy="440.31" r="1.8" fill="#f9834a"/>
<circle cx="484.20" cy="403.75" r="1.8" fill="#f9834a"/>
<circle cx="490.98" cy="359.63" r="1.8" fill="#f9834a"/>
<path d="M536.60 328.75 l-3 -2 v4z" fill="#e0527a"/>
<path d="M587.51 352.84 l-3 -2 v4z" fill="#e0527a"/>
<path d="M604.40 403.75 l-3 -2 v4z" fill="#e0527a"/>
<path d="M579.03 446.18 l-3 -2 v4z" fill="#e0527a"/>
<path d="M536.60 456.75 l-3 -2 v4z" fill="#e0527a"/>
<path d="M499.48 440.87 l-3 -2 v4z" fill="#e0527a"/>
<path d="M484.60 403.75 l-3 -2 v4z" fill="#e0527a"/>
<path d="M492.05 359.20 l-3 -2 v4z" fill="#e0527a"/>
<path d="M535.10 322.55 l2.4 2.7 l-2.4 2.7 l-2.4 -2.7z" fill="#bb3aa0"/>
<path d="M590.33 345.82 l2.4 2.7 l-2.4 2.7 l-2.4 -2.7z" fill="#bb3aa0"/>
<path d="M608.60 401.05 l2.4 2.7 l-2.4 2.7 l-2.4 -2.7z" fill="#bb3aa0"/>
<path d="M583.47 449.42 l2.4 2.7 l-2.4 2.7 l-2.4 -2.7z" fill="#bb3aa0"/>
<path d="M535.10 465.35 l2.4 2.7 l-2.4 2.7 l-2.4 -2.7z" fill="#bb3aa0"/>
<path d="M493.80 442.35 l2.4 2.7 l-2.4 2.7 l-2.4 -2.7z" fill="#bb3aa0"/>
<path d="M473.80 401.05 l2.4 2.7 l-2.4 2.7 l-2.4 -2.7z" fill="#bb3aa0"/>
<path d="M484.61 350.56 l2.4 2.7 l-2.4 2.7 l-2.4 -2.7z" fill="#bb3aa0"/>
<path d="M535.10 322.85 l2.6 4.2 h-5.2z" fill="#8400cf"/>
<path d="M581.70 354.75 l2.6 4.2 h-5.2z" fill="#8400cf"/>
<path d="M597.90 401.35 l2.6 4.2 h-5.2z" fill="#8400cf"/>
<path d="M577.81 444.06 l2.6 4.2 h-5.2z" fill="#8400cf"/>
<path d="M535.10 465.35 l2.6 4.2 h-5.2z" fill="#8400cf"/>
<path d="M493.95 442.50 l2.6 4.2 h-5.2z" fill="#8400cf"/>
<path d="M480.10 401.35 l2.6 4.2 h-5.2z" fill="#8400cf"/>
<path d="M489.63 355.88 l2.6 4.2 h-5.2z" fill="#8400cf"/>
<text class="k" x="535.50" y="317.70">100.0</text>
<text class="k" x="535.50" y="336.05">76.3</text>
<text class="k" x="535.50" y="354.45">52.5</text>
<text class="k" x="535.50" y="372.65">28.8</text>
<text class="k" x="535.50" y="390.95">5.0</text>
<text class="l" text-anchor="middle" x="535.10" y="299.85">DA1</text>
<text class="l" text-anchor="start" x="611.30" y="331.85">DA2</text>
<text class="l" text-anchor="start" x="643.60" y="409.45">DA3</text>
<text class="l" text-anchor="start" x="611.30" y="486.15">DA4</text>
<text class="l" text-anchor="middle" x="535.10" y="517.55">DA5</text>
<text class="l" text-anchor="end" x="457.80" y="487.05">DA6</text>
<text class="l" text-anchor="end" x="424.60" y="409.35">DA7</text>
<text class="l" text-anchor="end" x="457.80" y="331.75">DA8</text>
<circle cx="539.60" cy="313.35" r="9.2" fill="none" stroke="#e8141c" stroke-width="2.1"/>
<path d="M539.60 309.75 L542.50 315.75 L536.70 315.75 Z" fill="#e8141c"/>
<line x1="539.60" y1="313.35" x2="539.60" y2="316.55" stroke="#e8141c" stroke-width="1.4"/>
<circle cx="597.60" cy="340.20" r="9.2" fill="none" stroke="#868686" stroke-width="1.7"/>
<path d="M600.15 337.65 L597.95 343.95 L593.85 339.85 Z" fill="#787878"/>
<line x1="597.60" y1="340.20" x2="595.34" y2="342.46" stroke="#868686" stroke-width="1.4"/>
<circle cx="622.70" cy="403.45" r="9.2" fill="none" stroke="#868686" stroke-width="1.7"/>
<path d="M626.30 403.45 L620.30 406.35 L620.30 400.55 Z" fill="#787878"/>
<line x1="622.70" y1="403.45" x2="619.50" y2="403.45" stroke="#868686" stroke-width="1.4"/>
<circle cx="596.85" cy="467.90" r="9.2" fill="none" stroke="#868686" stroke-width="1.7"/>
<path d="M599.40 470.45 L593.10 468.25 L597.20 464.15 Z" fill="#787878"/>
<line x1="596.85" y1="467.90" x2="594.59" y2="465.64" stroke="#868686" stroke-width="1.4"/>
<circle cx="532.45" cy="489.95" r="9.2" fill="none" stroke="#868686" stroke-width="1.7"/>
<path d="M532.45 493.55 L529.55 487.55 L535.35 487.55 Z" fill="#787878"/>
<line x1="532.45" y1="489.95" x2="532.45" y2="486.75" stroke="#868686" stroke-width="1.4"/>
<circle cx="471.75" cy="466.40" r="9.2" fill="none" stroke="#868686" stroke-width="1.7"/>
<path d="M469.20 468.95 L471.40 462.65 L475.50 466.75 Z" fill="#787878"/>
<line x1="471.75" y1="466.40" x2="474.01" y2="464.14" stroke="#868686" stroke-width="1.4"/>
<circle cx="445.45" cy="403.45" r="9.2" fill="none" stroke="#868686" stroke-width="1.7"/>
<path d="M441.85 403.45 L447.85 400.55 L447.85 406.35 Z" fill="#787878"/>
<line x1="445.45" y1="403.45" x2="448.65" y2="403.45" stroke="#868686" stroke-width="1.4"/>
<circle cx="471.45" cy="339.40" r="9.2" fill="none" stroke="#868686" stroke-width="1.7"/>
<path d="M468.90 336.85 L475.20 339.05 L471.10 343.15 Z" fill="#787878"/>
<line x1="471.45" y1="339.40" x2="473.71" y2="341.66" stroke="#868686" stroke-width="1.4"/>
<text class="t" x="534.30" y="279.55">ANN</text>
</g>
<rect x="307.5" y="230" width="64" height="74" fill="#fff" stroke="#4a4a4a" stroke-width="1"/>
<line x1="310.7" y1="239.8" x2="339.2" y2="239.8" stroke="#f9834a" stroke-width="1.5"/>
<circle cx="325.00" cy="239.80" r="1.1" fill="#f9834a"/>
<text x="341.4" y="244.7" style="font-size:13px;fill:#1c1c1c;stroke:#1c1c1c">20%</text>
<line x1="310.7" y1="257.9" x2="339.2" y2="257.9" stroke="#e0527a" stroke-width="1.5" stroke-dasharray="7 6"/>
<path d="M327.00 257.90 l-3 -1.6 v3.2z" fill="#e0527a"/>
<text x="341.4" y="262.8" style="font-size:13px;fill:#1c1c1c;stroke:#1c1c1c">40%</text>
<line x1="310.7" y1="276.2" x2="339.2" y2="276.2" stroke="#bb3aa0" stroke-width="1.5" stroke-dasharray="1.3 1.3"/>
<path d="M325.00 274.40 l1.4 1.8 l-1.4 1.8 l-1.4 -1.8z" fill="#bb3aa0"/>
<text x="341.4" y="281.1" style="font-size:13px;fill:#1c1c1c;stroke:#1c1c1c">60%</text>
<line x1="310.7" y1="294.0" x2="339.2" y2="294.0" stroke="#8400cf" stroke-width="1.5" stroke-dasharray="8 2 1.4 2"/>
<path d="M325.00 292.20 l1.8 2.8 h-3.6z" fill="#8400cf"/>
<text x="341.4" y="298.9" style="font-size:13px;fill:#1c1c1c;stroke:#1c1c1c">80%</text>
</g></svg></body></html>
